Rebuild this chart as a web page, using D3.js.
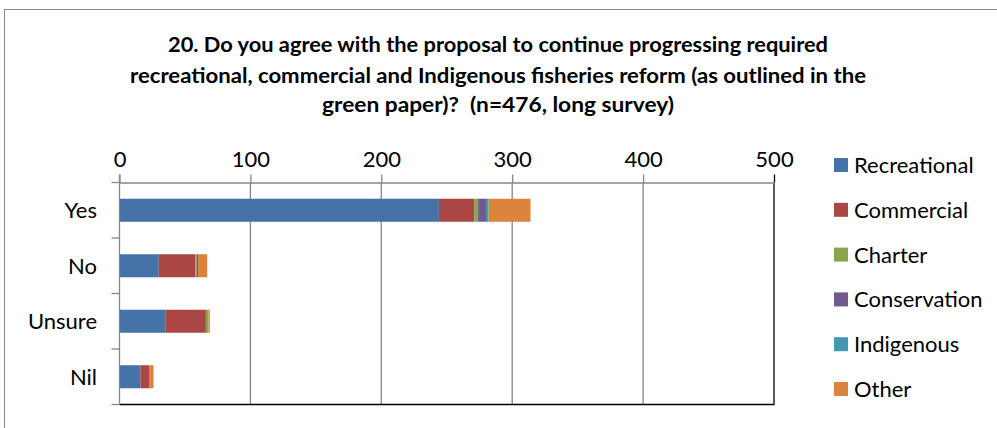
<!DOCTYPE html>
<html>
<head>
<meta charset="utf-8">
<script src="https://cdn.jsdelivr.net/npm/d3@7"></script>
<style>
  html, body { margin: 0; padding: 0; background: #fff; }
  svg { display: block; font-family: Lato, "Open Sans", sans-serif; }
</style>
</head>
<body>
<svg id="chart" width="997" height="428"></svg>
<script>
// Survey responses by respondent group
const categories = ["Yes", "No", "Unsure", "Nil"];
const seriesNames = ["Recreational", "Commercial", "Charter", "Conservation", "Indigenous", "Other"];
const recreational = [244, 30, 35, 16];
const commercial   = [27, 28, 31, 7];
const charter      = [3, 1, 2, 0];
const conservation = [6, 1, 0, 0];
const indigenous   = [2, 0, 0, 0];
const other        = [32, 7, 1, 3];
const xTicks = [0, 100, 200, 300, 400, 500];
const titleLines = [
  "20. Do you agree with the proposal to continue progressing required",
  "recreational, commercial and Indigenous fisheries reform (as outlined in the",
  "green paper)?  (n=476, long survey)"
];
const colors = ["#4573A7", "#AA4643", "#89A54E", "#71588F", "#4198AF", "#DB843D"];

const seriesValues = [recreational, commercial, charter, conservation, indigenous, other];
const rows = categories.map((c, i) => {
  const r = { category: c };
  seriesNames.forEach((s, j) => r[s] = seriesValues[j][i]);
  return r;
});

const svg = d3.select("#chart");

// chart frame
svg.append("rect")
  .attr("x", 4.5).attr("y", 9.5)
  .attr("width", 1000).attr("height", 430)
  .attr("fill", "#fff").attr("stroke", "#868686").attr("stroke-width", 1);

// title
const titleY = [52, 83, 112];
const titleW = [660, 736, 352];
svg.append("g").selectAll("text")
  .data(titleLines)
  .join("text")
  .attr("x", 498).attr("y", (d, i) => titleY[i])
  .attr("text-anchor", "middle")
  .attr("font-weight", "bold")
  .attr("font-size", 21)
  .attr("fill", "#000")
  .attr("textLength", (d, i) => titleW[i])
  .attr("lengthAdjust", "spacingAndGlyphs")
  .style("white-space", "pre")
  .text(d => d);

const plot = { left: 119.5, right: 774, top: 182.5, bottom: 404.5 };

const x = d3.scaleLinear().domain([0, 500]).range([plot.left, plot.right]);
const y = d3.scaleBand().domain(categories).range([plot.top, plot.bottom]).paddingInner(0.585).paddingOuter(0.2925);

// gridlines
svg.append("g").selectAll("line")
  .data(xTicks.slice(1, -1))
  .join("line")
  .attr("x1", d => x(d)).attr("x2", d => x(d))
  .attr("y1", plot.top).attr("y2", plot.bottom)
  .attr("stroke", "#868686").attr("stroke-width", 1.3);

// stacked bars
const stack = d3.stack().keys(seriesNames)(rows);
svg.append("g").selectAll("g")
  .data(stack)
  .join("g")
  .attr("fill", (d, i) => colors[i])
  .selectAll("rect")
  .data(d => d)
  .join("rect")
  .attr("x", d => x(d[0]))
  .attr("width", d => x(d[1]) - x(d[0]))
  .attr("y", d => y(d.data.category))
  .attr("height", y.bandwidth());

// plot border (right and bottom)
svg.append("path")
  .attr("d", `M${plot.left},${plot.bottom}H${plot.right}V${plot.top}`)
  .attr("fill", "none").attr("stroke", "#000").attr("stroke-width", 1.3);

// top value axis
const xAxis = d3.axisTop(x).tickValues(xTicks).tickSize(8).tickPadding(8).tickSizeOuter(0);
const gx = svg.append("g").attr("transform", `translate(0,${plot.top})`).call(xAxis);
gx.select(".domain").attr("stroke", "#868686").attr("stroke-width", 1.3);
gx.selectAll(".tick line").attr("stroke", "#868686").attr("stroke-width", 1.3);
gx.selectAll(".tick text").attr("font-size", 22).attr("font-family", "Lato, sans-serif").attr("fill", "#000");
// last tick on the black right border
gx.selectAll(".tick").filter(d => d === 500).select("line").attr("stroke", "#000");

// left category axis
const bandEdges = categories.slice(1).map((c, i) => plot.top + (plot.bottom - plot.top) / categories.length * (i + 1));
const gy = svg.append("g");
gy.append("line")
  .attr("x1", plot.left).attr("x2", plot.left)
  .attr("y1", plot.top - 8).attr("y2", plot.bottom)
  .attr("stroke", "#868686").attr("stroke-width", 1.3);
gy.selectAll(".edge")
  .data([plot.top].concat(bandEdges).concat([plot.bottom]))
  .join("line")
  .attr("class", "edge")
  .attr("x1", plot.left - 8).attr("x2", plot.left)
  .attr("y1", d => d).attr("y2", d => d)
  .attr("stroke", "#868686").attr("stroke-width", 1.3);
gy.selectAll("text")
  .data(categories)
  .join("text")
  .attr("x", 97)
  .attr("y", d => y(d) + y.bandwidth() / 2)
  .attr("dy", "0.36em")
  .attr("text-anchor", "end")
  .attr("font-size", 22)
  .attr("fill", "#000")
  .text(d => d);

// legend
const legend = svg.append("g").selectAll("g")
  .data(seriesNames)
  .join("g")
  .attr("transform", (d, i) => `translate(834,${165 + i * 44.8})`);
legend.append("rect")
  .attr("x", 0).attr("y", -7)
  .attr("width", 14).attr("height", 14)
  .attr("fill", (d, i) => colors[i]);
legend.append("text")
  .attr("x", 20).attr("y", 0)
  .attr("dy", "0.36em")
  .attr("font-size", 22)
  .attr("fill", "#000")
  .text(d => d);
</script>
</body>
</html>
